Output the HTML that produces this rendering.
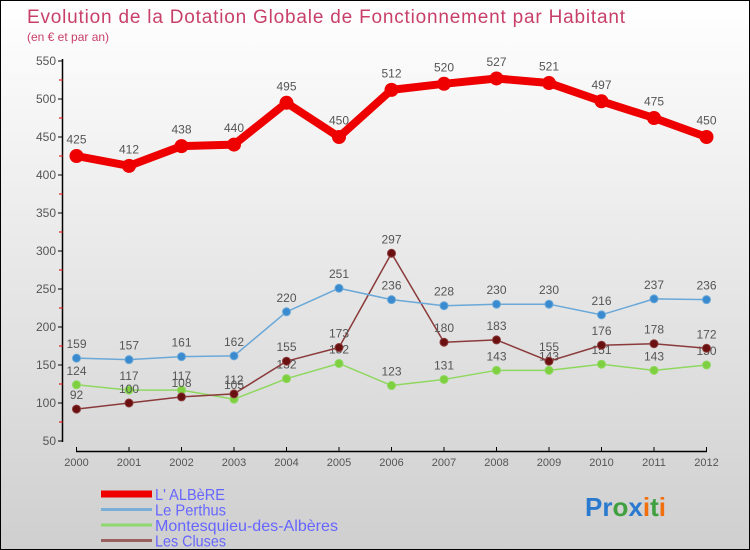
<!DOCTYPE html>
<html><head><meta charset="utf-8"><style>
body{margin:0}
#c{width:750px;height:550px;position:relative;box-sizing:border-box;border:1px solid #000;background:linear-gradient(#ffffff,#cfcfcf);font-family:"Liberation Sans",sans-serif;overflow:hidden}
svg text{font-family:"Liberation Sans",sans-serif}
</style></head><body>
<div id="c">
<svg id="s" width="750" height="550">
<text x="26" y="22" font-size="19" fill="#c8406a" textLength="598">Evolution de la Dotation Globale de Fonctionnement par Habitant</text>
<text x="26" y="40" font-size="12" fill="#c8406a">(en € et par an)</text>
</svg>
</div>
<script>
const years=["2000","2001","2002","2003","2004","2005","2006","2007","2008","2009","2010","2011","2012"];
const albere=[425,412,438,440,495,450,512,520,527,521,497,475,450];
const perthus=[159,157,161,162,220,251,236,228,230,230,216,237,236];
const montesquieu=[124,117,117,105,132,152,123,131,143,143,151,143,150];
const cluses=[92,100,108,112,155,173,297,180,183,155,176,178,172];
const yTicks=[50,100,150,200,250,300,350,400,450,500,550];
const names=["L' ALBèRE","Le Perthus","Montesquieu-des-Albères","Les Cluses"];
const NS="http://www.w3.org/2000/svg",s=document.getElementById('s');
const X=i=>75.5+i*52.5, Y=v=>440-(v-50)*0.76;
function el(t,a,p){const e=document.createElementNS(NS,t);for(const k in a)e.setAttribute(k,a[k]);(p||s).appendChild(e);return e;}
let ya=el('line',{x1:61.5,y1:58,x2:61.5,y2:441,stroke:'#000','stroke-width':1.5});


yTicks.forEach(v=>{
 el('line',{x1:57,x2:62,y1:Y(v),y2:Y(v),stroke:'#000'});
 if(v<550){el('line',{x1:58,x2:62,y1:Y(v+25),y2:Y(v+25),stroke:'#e00000'});}
 const t=el('text',{x:55,y:Y(v)+4,'text-anchor':'end','font-size':12,fill:'#555'});t.textContent=v;
 
 
});
let xa=el('line',{x1:75,y1:450.5,x2:706,y2:450.5,stroke:'#000','stroke-width':1.5});


years.forEach((y,i)=>{
 el('line',{x1:X(i),x2:X(i),y1:446,y2:451,stroke:'#000'});
 const t=el('text',{x:X(i),y:465,'text-anchor':'middle','font-size':11,fill:'#555'});t.textContent=y;
 
 
});
function series(data,color,fill,w,r,name,fs){
 const g=el('g',{});
 
 
 el('polyline',{points:data.map((v,i)=>X(i)+','+Y(v)).join(' '),fill:'none',stroke:color,'stroke-width':w,'stroke-linejoin':'round'},g);
 data.forEach((v,i)=>{
  const c=el('circle',{cx:X(i),cy:Y(v),r:r,fill:fill,stroke:color,'stroke-width':1},g);
  
  
  const t=el('text',{x:X(i),y:Y(v)-(r+6),'text-anchor':'middle','font-size':fs,fill:'#555'},g);t.textContent=v;
  
  
 });
}
series(montesquieu,'#8fd860','#7ed040',1.5,4,'montesquieu-series',12);
series(cluses,'#8a3a3a','#6b1010',1.5,4,'les-cluses-series',12);
series(perthus,'#6aa8d8','#3a8ad0',1.5,4,'le-perthus-series',12);
series(albere,'#ee0000','#ee0000',8,6.5,'albere-series',12);
const lc=['#ee0000','#7ab0d8','#90d870','#9a6060'],lw=[7,3,3,3],tl=[70,71,183,71];
names.forEach((n,i)=>{
 const y=493+i*15.5;
 const l=el('line',{x1:100,x2:151,y1:y,y2:y,stroke:lc[i],'stroke-width':lw[i]});
 
 
 const t=el('text',{x:154,y:y+6,'font-size':16,fill:'#6666ff',textLength:tl[i],lengthAdjust:'spacingAndGlyphs'});t.textContent=n;
 
 
});
const lg=el('text',{x:584,y:515,'font-size':26,'font-weight':'bold'});


[['Pr','#2a7ad0'],['o','#40a040'],['x','#2a7ad0'],['i','#f07010'],['t','#40a040'],['i','#f07010']].forEach(p=>{const ts=el('tspan',{fill:p[1]},lg);ts.textContent=p[0];});
</script>
</body></html>
